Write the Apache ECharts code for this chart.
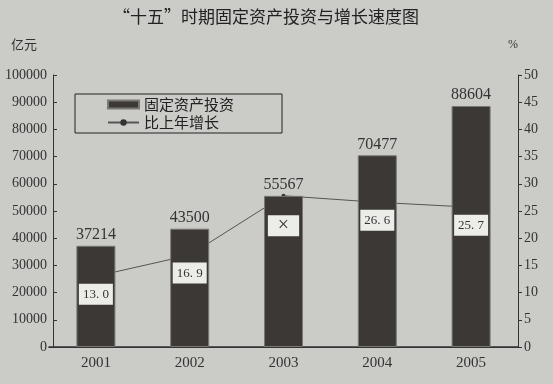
<!DOCTYPE html>
<html>
<head>
<meta charset="utf-8">
<script src="https://cdn.jsdelivr.net/npm/echarts@6/dist/echarts.min.js"></script>
<style>
	html, body { margin: 0; padding: 0; background: #cbcbc7; }
	#chart { width: 553px; height: 384px; }
</style>
</head>
<body>
<div id="chart"></div>
<script>
	// 年份
	var years = ['2001', '2002', '2003', '2004', '2005'];
	// 固定资产投资（亿元）
	var invest = [37214, 43500, 55567, 70477, 88604];
	// 比上年增长（%）
	var growth = [13.0, 16.9, 27.8, 26.6, 25.7];
	// 折线标签（2003年为题目中的 ×）
	var growthText = ['13. 0', '16. 9', '×', '26. 6', '25. 7'];

	var serif = "'Liberation Serif', 'DejaVu Serif', 'Noto Sans CJK SC', serif";
	var cjk = "'Noto Sans CJK SC', sans-serif";

	var myChart = echarts.init(document.getElementById('chart'));

	//折线标签单独一层，压在柱子上面
	var labelData = [];
	for(var i = 0; i < growth.length; i++) {
		labelData.push({
			value: growth[i],
			label: {
				formatter: growthText[i],
				distance: i == 2 ? 19 : 7,
				fontSize: i == 2 ? 20 : 13,
				lineHeight: i == 2 ? 21 : 16,
				padding: i == 2 ? [0, 10, 0, 10] : [3, 4, 2, 4]
			}
		});
	}

	var axisColor = '#333';

	var option = {
		backgroundColor: '#cbcbc7',
		title: {
			text: '“十五”时期固定资产投资与增长速度图',
			left: 108,
			top: 3,
			textStyle: { fontFamily: cjk, fontSize: 17, fontWeight: 'normal', color: '#222' }
		},
		legend: {
			left: 75,
			top: 94,
			orient: 'vertical',
			borderColor: '#222',
			borderWidth: 1,
			padding: [3, 48, 3, 32],
			itemGap: 3,
			itemWidth: 31,
			itemHeight: 8,
			textStyle: { fontFamily: cjk, fontSize: 15, color: '#222' },
			data: [{ name: '固定资产投资', icon: 'rect' }, { name: '比上年增长' }]
		},
		grid: {
			left: 49,
			right: 35,
			top: 75,
			bottom: 37
		},
		xAxis: [{
			type: 'category',
			data: years,
			axisLine: { lineStyle: { color: axisColor, width: 1.5 } },
			axisTick: { inside: true, length: 2, lineStyle: { color: axisColor } },
			axisLabel: { fontFamily: serif, fontSize: 15, color: '#333', margin: 9 }
		}, {
			// 顶部边框
			type: 'category',
			data: years,
			position: 'top',
			axisLine: { show: true, lineStyle: { color: axisColor } },
			axisTick: { show: false },
			axisLabel: { show: false }
		}],
		yAxis: [{
			type: 'value',
			min: 0,
			max: 100000,
			interval: 10000,
			offset: -4,
			name: '亿元',
			nameGap: 24,
			nameTextStyle: { fontFamily: cjk, fontSize: 13, color: '#333', align: 'right', padding: [0, 16, 0, 0] },
			axisLine: { show: true, lineStyle: { color: axisColor } },
			axisTick: { show: true, inside: true, length: 4, lineStyle: { color: axisColor } },
			axisLabel: {
				fontFamily: serif, fontSize: 14, color: '#333', margin: 6,
				formatter: function(v) { return String(v); }
			},
			splitLine: { show: false }
		}, {
			type: 'value',
			min: 0,
			max: 50,
			interval: 5,
			name: '%',
			nameGap: 24,
			nameTextStyle: { fontFamily: serif, fontSize: 12, color: '#333', align: 'right' },
			axisLine: { show: true, lineStyle: { color: axisColor } },
			axisTick: { show: true, length: 4, lineStyle: { color: axisColor } },
			axisLabel: { fontFamily: serif, fontSize: 14, color: '#333', margin: 6 },
			splitLine: { show: false }
		}],
		series: [{
			name: '比上年增长',
			type: 'line',
			yAxisIndex: 1,
			data: growth,
			z: 1,
			symbol: 'circle',
			symbolSize: 4,
			itemStyle: { color: '#333' },
			lineStyle: { color: '#555', width: 1 }
		}, {
			name: '固定资产投资',
			type: 'bar',
			yAxisIndex: 0,
			data: invest,
			z: 2,
			barWidth: 39,
			itemStyle: { color: '#3b3835', borderColor: '#7a7875', borderWidth: 1 },
			label: {
				show: true,
				position: 'top',
				distance: 3,
				fontFamily: serif,
				fontSize: 16,
				color: '#333',
				formatter: function(p) { return String(p.value); }
			}
		}, {
			name: 'growthLabel',
			type: 'line',
			yAxisIndex: 1,
			data: labelData,
			z: 5,
			symbol: 'circle',
			symbolSize: 1,
			showSymbol: true,
			silent: true,
			itemStyle: { color: 'rgba(0,0,0,0)' },
			lineStyle: { opacity: 0 },
			label: {
				show: true,
				position: 'bottom',
				backgroundColor: '#ecece9',
				color: '#333',
				fontFamily: serif
			}
		}]
	};
	myChart.setOption(option);
</script>
</body>
</html>
